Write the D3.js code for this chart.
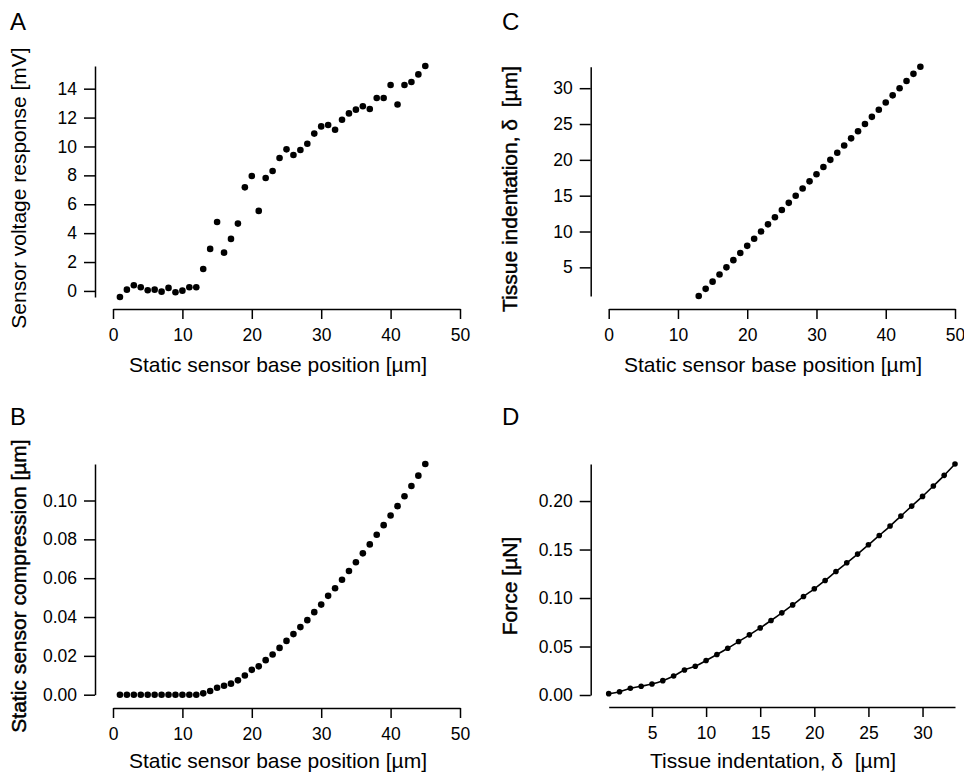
<!DOCTYPE html>
<meta charset="utf-8">
<script src="https://d3js.org/d3.v7.min.js"></script>
<style>
  body { margin: 0; background: #fff; }
  text { font-family: "Liberation Sans", Arial, sans-serif; fill: #000; }
  .tick text { font-size: 17.5px; }
  .domain, .tick line { stroke: #000; stroke-width: 1.5px; }
  .title { font-size: 21px; white-space: pre; }
  .heavy { stroke: #000; stroke-width: 0.45px; }
  .letter { font-size: 24px; }
</style>
<div id="chart"></div>
<script>

// panel A / B: static sensor base position [um]
var basePos = [1,2,3,4,5,6,7,8,9,10,11,12,13,14,15,16,17,18,19,20,21,22,23,
               24,25,26,27,28,29,30,31,32,33,34,35,36,37,38,39,40,41,42,43,44,45];

// A: sensor voltage response [mV]
var voltage = [-0.42,0.09,0.39,0.25,0.05,0.09,-0.05,0.21,-0.09,0.02,0.25,0.25,
               1.52,2.91,4.77,2.65,3.60,4.66,7.17,7.96,5.54,7.82,
               8.30,9.20,9.80,9.41,9.76,10.19,10.89,11.39,11.49,11.16,
               11.85,12.29,12.55,12.78,12.59,13.35,13.35,14.25,12.91,14.25,
               14.46,14.99,15.57];

// B: static sensor compression [um]
var compression = [0,0,0,0,0,0,0,0,0,0,0,0,
                   0.0007,0.0019,0.0036,0.0046,0.0057,0.0074,0.0099,0.0128,0.0146,0.0178,
                   0.0207,0.0241,0.0277,0.0312,0.0348,0.0384,0.0425,0.0464,0.0509,0.0548,
                   0.0592,0.0637,0.0682,0.0728,0.0774,0.0824,0.0873,0.0923,0.0971,0.1022,
                   0.1075,0.1128,0.1188];

// C: tissue indentation vs base position
var basePosC = [13,14,15,16,17,18,19,20,21,22,23,24,25,26,27,28,29,30,31,32,33,
                34,35,36,37,38,39,40,41,42,43,44,45];
var indentC = [1,2,3,4,5,6,7,8,9,10,11,12,13,14,15,16,17,18,19,20,21,
               22,23,24,25,26,27,28,29,30,31,32,33];

// D: force [uN] vs tissue indentation
var indentD = [1,2,3,4,5,6,7,8,9,10,11,12,13,14,15,16,17,18,19,20,21,
               22,23,24,25,26,27,28,29,30,31,32,33];
var force = [0.0014,0.0034,0.0069,0.0090,0.0114,0.0148,0.0196,0.0258,0.0296,0.0355,
             0.0417,0.0482,0.0551,0.0620,0.0692,0.0768,0.0847,0.0929,0.1015,0.1095,
             0.1181,0.1274,0.1363,0.1453,0.1549,0.1645,0.1742,0.1845,0.1948,0.2048,
             0.2155,0.2265,0.2382];

// tick labels
var ticksX50 = [0,10,20,30,40,50];
var ticksA = [0,2,4,6,8,10,12,14];
var ticksB = [0,0.02,0.04,0.06,0.08,0.10];
var ticksC = [5,10,15,20,25,30];
var ticksDx = [5,10,15,20,25,30];
var ticksDy = [0,0.05,0.10,0.15,0.20];

var svg = d3.select("#chart")
    .append("svg")
    .attr("width", 964)
    .attr("height", 776);

function panel(o) {
    var x = d3.scaleLinear().domain(o.xDomain).range(o.xRange);
    var y = d3.scaleLinear().domain(o.yDomain).range(o.yRange);

    svg.append("g")
        .attr("transform", "translate(0," + o.xAxisY + ")")
        .call(d3.axisBottom(x).tickValues(o.xTicks).tickSize(10).tickPadding(10).tickSizeOuter(0));

    svg.append("g")
        .attr("transform", "translate(" + o.yAxisX + ",0)")
        .call(d3.axisLeft(y).tickValues(o.yTicks).tickFormat(o.yFormat || d3.format("d"))
            .tickSize(11).tickPadding(7).tickSizeOuter(0));

    var pts = o.xs.map(function(d, i) { return [d, o.ys[i]]; });

    if (o.fit) {
        svg.append("path")
            .datum(pts)
            .attr("fill", "none")
            .attr("stroke", "#000")
            .attr("stroke-width", 1.6)
            .attr("d", d3.line()
                .curve(d3.curveCatmullRom)
                .x(function(d) { return x(d[0]); })
                .y(function(d) { return y(d[1]); }));
    }

    svg.append("g")
        .selectAll("circle")
        .data(pts)
        .enter()
        .append("circle")
        .attr("cx", function(d) { return x(d[0]); })
        .attr("cy", function(d) { return y(d[1]); })
        .attr("r", o.r)
        .attr("fill", "#000");

    // panel letter
    svg.append("text").attr("class", "letter")
        .attr("x", o.letterX).attr("y", o.letterY).text(o.letter);

    // x title
    svg.append("text").attr("class", "title")
        .attr("x", o.xTitleX).attr("y", o.xTitleY)
        .attr("text-anchor", "middle")
        .text(o.xTitle);

    // y title
    svg.append("text").attr("class", o.heavy ? "title heavy" : "title")
        .attr("transform", "translate(" + o.yTitleX + "," + o.yTitleY + ") rotate(-90)")
        .attr("text-anchor", "middle")
        .text(o.yTitle);
}

panel({
    xs: basePos, ys: voltage, r: 3.3,
    xDomain: [0, 50], xRange: [113, 460], xAxisY: 309, xTicks: ticksX50,
    yDomain: d3.extent(voltage), yRange: [297, 66], yAxisX: 95, yTicks: ticksA,
    letter: "A", letterX: 10, letterY: 30,
    xTitle: "Static sensor base position [µm]", xTitleX: 278, xTitleY: 372,
    yTitle: "Sensor voltage response [mV]", yTitleX: 26, yTitleY: 188
});

panel({
    xs: basePos, ys: compression, r: 3.3,
    xDomain: [0, 50], xRange: [113, 460], xAxisY: 708, xTicks: ticksX50,
    yDomain: [0, d3.max(compression)], yRange: [694.7, 464], yAxisX: 95, yTicks: ticksB,
    yFormat: d3.format(".2f"),
    letter: "B", letterX: 10, letterY: 425,
    xTitle: "Static sensor base position [µm]", xTitleX: 278, xTitleY: 768,
    yTitle: "Static sensor compression [µm]", yTitleX: 26, yTitleY: 586, heavy: true
});

panel({
    xs: basePosC, ys: indentC, r: 3.3,
    xDomain: [0, 50], xRange: [608.7, 955], xAxisY: 309, xTicks: ticksX50,
    yDomain: d3.extent(indentC), yRange: [296, 66.7], yAxisX: 590.7, yTicks: ticksC,
    letter: "C", letterX: 502, letterY: 30,
    xTitle: "Static sensor base position [µm]", xTitleX: 773, xTitleY: 372,
    yTitle: "Tissue indentation, δ  [µm]", yTitleX: 517, yTitleY: 189, heavy: true
});

panel({
    xs: indentD, ys: force, r: 2.8, fit: true,
    xDomain: d3.extent(indentD), xRange: [608.7, 955], xAxisY: 707, xTicks: ticksDx,
    yDomain: [0, d3.max(force)], yRange: [695, 464], yAxisX: 590.7, yTicks: ticksDy,
    yFormat: d3.format(".2f"),
    letter: "D", letterX: 502, letterY: 425,
    xTitle: "Tissue indentation, δ  [µm]", xTitleX: 773, xTitleY: 768,
    yTitle: "Force [µN]", yTitleX: 517, yTitleY: 586, heavy: true
});

</script>
